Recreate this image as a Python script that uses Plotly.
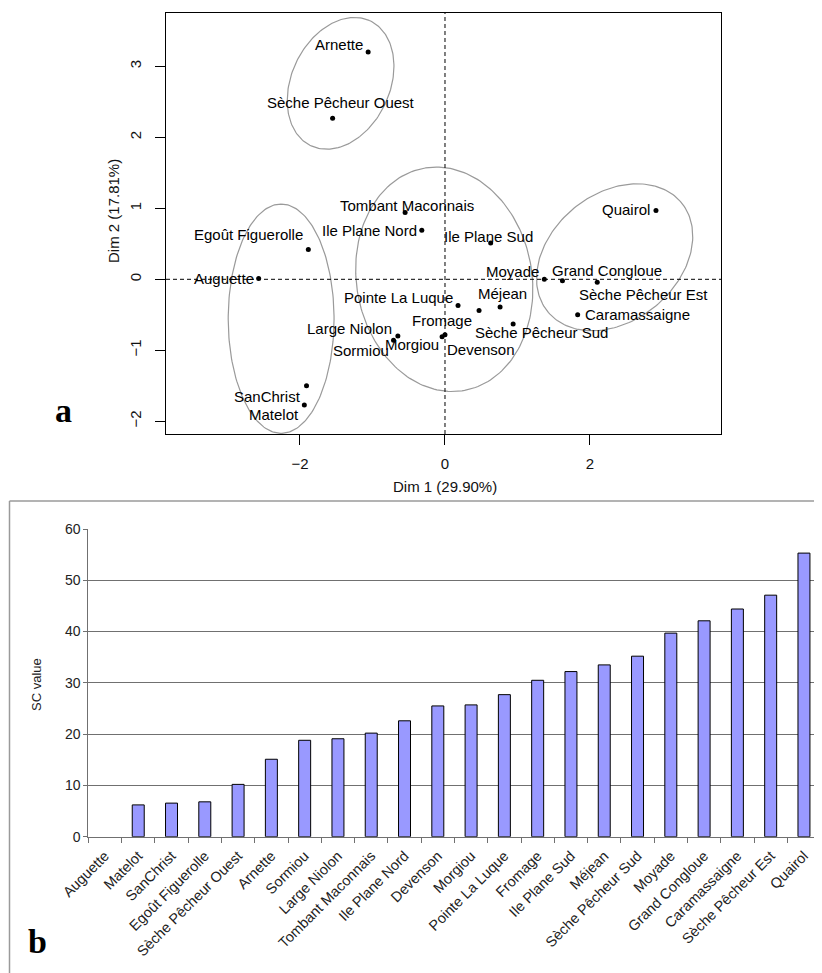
import numpy as np
import plotly.graph_objects as go

# ---------------- data ----------------
sites = ["Auguette", "Matelot", "SanChrist", "Egoût Figuerolle", "Sèche Pêcheur Ouest",
         "Arnette", "Sormiou", "Large Niolon", "Tombant Maconnais", "Ile Plane Nord",
         "Devenson", "Morgiou", "Pointe La Luque", "Fromage", "Ile Plane Sud", "Méjean",
         "Sèche Pêcheur Sud", "Moyade", "Grand Congloue", "Caramassaigne",
         "Sèche Pêcheur Est", "Quairol"]
dim1 = [-2.57, -1.94, -1.91, -1.885, -1.55, -1.06, -0.71, -0.65, -0.55, -0.32,
        0.00, -0.04, 0.18, 0.47, 0.63, 0.76, 0.94, 1.37, 1.62, 1.83, 2.10, 2.91]
dim2 = [0.01, -1.77, -1.50, 0.42, 2.27, 3.20, -0.86, -0.80, 0.94, 0.69,
        -0.78, -0.81, -0.37, -0.44, 0.51, -0.39, -0.63, 0.00, -0.02, -0.50, -0.04, 0.97]
sc_values = [0, 6.2, 6.55, 6.8, 10.2, 15.1, 18.8, 19.1, 20.2, 22.6, 25.5, 25.7,
             27.7, 30.5, 32.2, 33.5, 35.2, 39.7, 42.1, 44.4, 47.1, 55.3]
# group ellipses: centre x, centre y, semi-major, semi-minor, angle (deg)
ell_cx = [-1.44, -2.26, -0.01, 2.34]
ell_cy = [2.76, -0.555, 0.0, 0.31]
ell_a = [0.97, 1.615, 1.59, 1.20]
ell_b = [0.68, 0.73, 1.21, 0.89]
ell_ang = [66, 90, 99.5, 41]
x_ticks = [-2, 0, 2]
y_ticks = [-2, -1, 0, 1, 2, 3]
sc_ticks = [0, 10, 20, 30, 40, 50, 60]

# label offsets in pixels (style)
lab_dx = [-35, -30, -39, -60, 8, -29, -33, -48, 2, -52, 36, -30, -60, -37, -2, 2, 28, -32, 45, 60, 46, -30]
lab_dy = [0, 10, 11, -15, -16, -8, 10, -8, -7, 0, 15, 8, -8, 10, -7, -13, 8, -8, -10, 0, 12, -1]

# page body has an 8px margin: figure is placed at (8, 8) in the window
OFF = 8
W, H = 822 - OFF, 973 - OFF


def PX(px):
    return (px - OFF) / W


def PY(py):
    return 1 - (py - OFF) / H


FONT = "Liberation Sans, Arial, sans-serif"

fig = go.Figure()

# ellipses
t = np.linspace(0, 2 * np.pi, 200)
for cx, cy, a, b, ang in zip(ell_cx, ell_cy, ell_a, ell_b, ell_ang):
    th = np.deg2rad(ang)
    ex = cx + a * np.cos(t) * np.cos(th) - b * np.sin(t) * np.sin(th)
    ey = cy + a * np.cos(t) * np.sin(th) + b * np.sin(t) * np.cos(th)
    fig.add_trace(go.Scatter(x=ex, y=ey, mode="lines", line=dict(color="#9a9a9a", width=1.2),
                             hoverinfo="skip", showlegend=False, xaxis="x", yaxis="y"))

# points
fig.add_trace(go.Scatter(x=dim1, y=dim2, mode="markers", marker=dict(color="black", size=5),
                         text=sites, showlegend=False, xaxis="x", yaxis="y"))

# labels
for name, x, y, dx, dy in zip(sites, dim1, dim2, lab_dx, lab_dy):
    fig.add_annotation(x=x, y=y, xref="x", yref="y", text=name, showarrow=False,
                       xshift=dx, yshift=-dy, xanchor="center", yanchor="middle",
                       font=dict(family=FONT, size=15, color="#000"))

# bars (no outline for empty bars)
bar_line_colors = ["rgba(0,0,0,0)" if v == 0 else "black" for v in sc_values]
fig.add_trace(go.Bar(x=sites, y=sc_values,
                     marker=dict(color="#9999FF", line=dict(color=bar_line_colors, width=1)),
                     width=0.36, showlegend=False, xaxis="x2", yaxis="y2"))

# dashed reference lines
fig.add_shape(type="line", xref="x", yref="y domain", x0=0, x1=0, y0=0, y1=1,
              line=dict(color="black", width=1, dash="4px,3px"))
fig.add_shape(type="line", xref="x domain", yref="y", x0=0, x1=1, y0=0, y1=0,
              line=dict(color="black", width=1, dash="4px,3px"))

# outer border of bar chart
fig.add_shape(type="line", xref="paper", yref="paper", x0=PX(9.5), x1=PX(9.5), y0=PY(501), y1=0,
              line=dict(color="#9a9a9a", width=1.5))
fig.add_shape(type="line", xref="paper", yref="paper", x0=PX(9.5), x1=1, y0=PY(501), y1=PY(501),
              line=dict(color="#9a9a9a", width=1.5))

# titles / letters
fig.add_annotation(x=PX(445), y=PY(486), xref="paper", yref="paper", text="Dim 1 (29.90%)",
                   showarrow=False, xanchor="center", yanchor="middle",
                   font=dict(family=FONT, size=15, color="#111"))
fig.add_annotation(x=PX(113), y=PY(211), xref="paper", yref="paper", text="Dim 2 (17.81%)",
                   showarrow=False, xanchor="center", yanchor="middle", textangle=-90,
                   font=dict(family=FONT, size=15, color="#111"))
fig.add_annotation(x=PX(36), y=PY(685), xref="paper", yref="paper", text="SC value",
                   showarrow=False, xanchor="center", yanchor="middle", textangle=-90,
                   font=dict(family=FONT, size=13, color="#222"))
fig.add_annotation(x=PX(63), y=PY(410), xref="paper", yref="paper", text="<b>a</b>",
                   showarrow=False, xanchor="center", yanchor="middle",
                   font=dict(family="Liberation Serif, Times New Roman, serif", size=34, color="black"))
fig.add_annotation(x=PX(37), y=PY(941), xref="paper", yref="paper", text="<b>b</b>",
                   showarrow=False, xanchor="center", yanchor="middle",
                   font=dict(family="Liberation Serif, Times New Roman, serif", size=34, color="black"))

fig.update_layout(
    width=W, height=H, margin=dict(l=0, r=0, t=0, b=0, autoexpand=False),
    paper_bgcolor="white", plot_bgcolor="white",
    font=dict(family=FONT, color="#111"),
    xaxis=dict(domain=[PX(166), PX(721)], range=[-3.848, 3.807], tickvals=x_ticks, automargin=False,
               showline=True, mirror=True, linecolor="black", linewidth=1,
               ticks="outside", ticklen=10, tickcolor="black", showgrid=False, zeroline=False,
               tickfont=dict(size=15, family=FONT, color="#111"), ticklabelstandoff=6),
    yaxis=dict(domain=[PY(434), PY(12.7)], range=[-2.179, 3.755], tickvals=y_ticks, automargin=False,
               showline=True, mirror=True, linecolor="black", linewidth=1,
               ticks="outside", ticklen=10, tickcolor="black", showgrid=False, zeroline=False,
               tickangle=-90, tickfont=dict(size=15, family=FONT, color="#111"), ticklabelstandoff=8),
    xaxis2=dict(domain=[PX(88.3), PX(820.6)], type="category", categoryorder="array", automargin=False,
                categoryarray=sites, tickangle=-45, ticks="outside", ticklen=5, tickson="boundaries",
                tickcolor="#707070", showline=True, linecolor="#707070", linewidth=1,
                showgrid=False, zeroline=False, ticklabelstandoff=4,
                tickfont=dict(size=14.5, family=FONT, color="#222"), anchor="y2"),
    yaxis2=dict(domain=[PY(836.7), PY(529)], range=[0, 60], tickvals=sc_ticks, automargin=False,
                showline=True, linecolor="#707070", linewidth=1, ticks="outside", ticklen=4,
                tickcolor="#707070", showgrid=True, gridcolor="#707070", gridwidth=1, zeroline=False,
                tickfont=dict(size=14, family=FONT, color="#222"), anchor="x2"),
)

fig.write_html("out.html")
